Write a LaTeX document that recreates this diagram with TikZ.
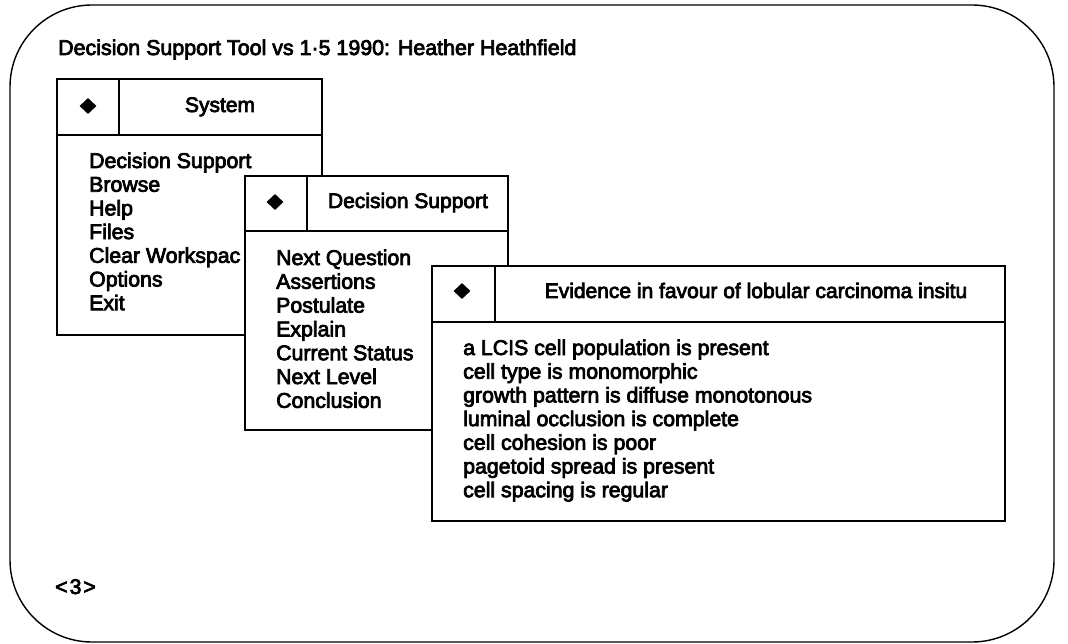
\documentclass[tikz,border=0pt]{standalone}
\usepackage{fontspec}
\setmainfont{Liberation Sans}
\newfontfamily\screenfont{Liberation Sans}[FakeBold=3.5]
\usetikzlibrary{shapes.geometric}
\begin{document}
\begin{tikzpicture}[x=1pt,y=-1pt,
  frame/.style={draw=black, line width=1.4pt, rounded corners=82pt},
  win/.style={draw=black, line width=1.7pt, fill=white},
  rule/.style={draw=black, line width=1.7pt},
  knob/.style={diamond, fill=black, inner sep=0pt, minimum width=17pt, minimum height=16pt},
  head/.style={anchor=base, inner sep=0pt, font=\screenfont\fontsize{21}{24}\selectfont},
  entry/.style={anchor=base west, inner sep=0pt, font=\screenfont\fontsize{21.3}{24}\selectfont},
  caption/.style={anchor=base west, inner sep=0pt, font=\screenfont\fontsize{21.4}{24}\selectfont}]
\useasboundingbox (0,0) rectangle (1068,644);

% outer screen frame
\draw[frame] (10,5) rectangle (1054,642);
\node[caption] (title) at (58,55) {Decision Support Tool vs 1·5 1990: Heather Heathfield};
\node[entry] (page) at (55,594) {<\kern2pt3\kern2pt>};

% System menu
\draw[win] (57,79) rectangle (322,335);
\draw[rule] (57,135) -- (322,135) (119,79) -- (119,135);
\node[knob] (sysknob) at (88,106) {};
\node[head] (syshead) at (220,112) {System};
\foreach \t [count=\i] in {Decision Support, Browse, Help, Files, Clear Workspac, Options, Exit}
  \node[entry] (sys\i) at (89,{168+23.7*(\i-1)}) {\t};

% Decision Support menu
\draw[win] (245,176) rectangle (508,430);
\draw[rule] (245,231) -- (508,231) (307,176) -- (307,231);
\node[knob] (dsknob) at (275,202) {};
\node[head] (dshead) at (408,208) {Decision Support};
\foreach \t [count=\i] in {Next Question, Assertions, Postulate, Explain, Current Status, Next Level, Conclusion}
  \node[entry] (ds\i) at (276,{265+23.8*(\i-1)}) {\t};

% Evidence window
\draw[win] (432,266) rectangle (1005,521);
\draw[rule] (432,322) -- (1005,322) (495,266) -- (495,322);
\node[knob] (evknob) at (462,291) {};
\node[head] (evhead) at (756,298) {Evidence in favour of lobular carcinoma insitu};
\foreach \t [count=\i] in {a LCIS cell population is present, cell type is monomorphic, growth pattern is diffuse monotonous, luminal occlusion is complete, cell cohesion is poor, pagetoid spread is present, cell spacing is regular}
  \node[entry] (ev\i) at (463,{355+23.7*(\i-1)}) {\t};
\end{tikzpicture}
\end{document}
